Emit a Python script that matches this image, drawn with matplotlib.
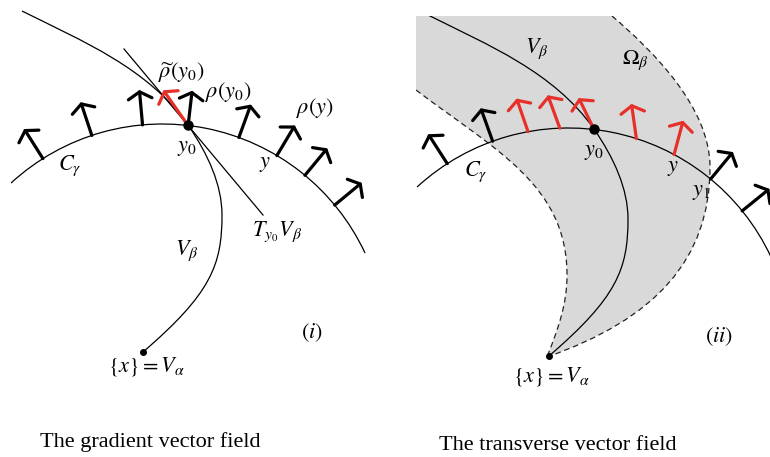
import numpy as np
import matplotlib
matplotlib.use("Agg")
import matplotlib.pyplot as plt
from matplotlib.path import Path
from matplotlib.patches import PathPatch, Arc, FancyArrowPatch, Rectangle, ArrowStyle

plt.rcParams['mathtext.fontset'] = 'stix'
plt.rcParams['font.family'] = ['Liberation Serif', 'DejaVu Serif']

# circle C_gamma (pixel space, y downward), same circle in both panels, shifted
circle_R = 223.6
circle_centers = [(162.4, 347.6), (568.4, 351.6)]
arc_span = (25.0, 132.6)          # degrees, measured counter-clockwise, y up

# left panel: gradient field arrows (angle of base on C_gamma, all radial)
left_black_angles = [122.3, 108.4, 95.1, 83.4, 70.0, 59.2, 50.4, 39.6]
left_red_angle = 83.4
left_red_dir = 125.1
# right panel: black radial arrows outside Omega, red transverse arrows inside
right_black_angles = [122.8, 109.8, 50.5, 39.0]
right_red_angles = [100.4, 92.2, 83.4, 72.3, 61.8]
right_red_dirs = [109.0, 110.0, 116.0, 98.0, 75.0]
y0_angle = 83.4

# V_beta curve (cubic bezier control points), left panel
vbeta_pts = [(22, 11), (82, 41), (148, 68), (188, 125),
             (208, 154), (222, 185), (222, 215),
             (222, 265), (211, 293.5), (143, 352)]
vbeta_shift = (406, 4)
tangent_line = [(124, 49), (263, 215)]

# boundary of Omega_beta (right panel)
omega_right = [(612, 16), (652, 50), (710, 107), (710, 167),
               (710, 260), (655, 319), (547, 357)]
omega_left = [(416, 90), (495, 150), (567, 185), (567, 275),
              (567, 305), (558, 329), (547, 357)]
clip_box = (416, 16)

left_labels = [(r'$\widetilde{\rho}(y_0)$', 181, 73), (r'$\rho(y_0)$', 228, 92),
               (r'$\rho(y)$', 315, 108), (r'$y_0$', 187, 148), (r'$C_\gamma$', 70, 166),
               (r'$y$', 265, 164), (r'$T_{y_0}V_\beta$', 277, 232), (r'$V_\beta$', 187, 251),
               (r'$(i)$', 312, 333), (r'$\{x\} = V_\alpha$', 147, 367)]
right_labels = [(r'$V_\beta$', 537, 49), (r'$\Omega_\beta$', 635, 60), (r'$y_0$', 594, 152),
                (r'$C_\gamma$', 476, 172), (r'$y$', 673, 169), (r'$y_1$', 701, 192),
                (r'$(ii)$', 719, 337), (r'$\{x\} = V_\alpha$', 552, 377)]
titles = [("The gradient vector field", 150, 442), ("The transverse vector field", 558, 446)]

RED = '#e8302a'
GRAY = '#d9d9d9'

fig = plt.figure(figsize=(7.7, 4.57), dpi=100)
ax = fig.add_axes([0, 0, 1, 1])
ax.set_xlim(0, 770)
ax.set_ylim(457, 0)
ax.axis('off')

clip = Rectangle(clip_box, 770 - clip_box[0], 457 - clip_box[1], transform=ax.transData)


def on_circle(c, ang):
    t = np.radians(ang)
    return c[0] + circle_R * np.cos(t), c[1] - circle_R * np.sin(t)


def arrow(c, base_ang, dir_ang, length, color):
    x0, y0 = on_circle(c, base_ang)
    t = np.radians(dir_ang)
    x1, y1 = x0 + length * np.cos(t), y0 - length * np.sin(t)
    a = FancyArrowPatch((x0, y0), (x1, y1),
                        arrowstyle=ArrowStyle('->', head_length=0.5, head_width=0.85),
                        mutation_scale=10, lw=2.3, color=color,
                        shrinkA=0, shrinkB=0, zorder=5)
    a.set_capstyle('round')
    a.set_joinstyle('round')
    ax.add_patch(a)


def bez_path(pts, dx=0, dy=0):
    verts = [(x + dx, y + dy) for x, y in pts]
    codes = [Path.MOVETO] + [Path.CURVE4] * (len(verts) - 1)
    return Path(verts, codes)


# shaded region Omega_beta
reg = [clip_box, omega_right[0]] + omega_right[1:] + omega_left[::-1][1:] + [clip_box, clip_box]
codes = ([Path.MOVETO, Path.LINETO] + [Path.CURVE4] * (len(omega_right) - 1)
         + [Path.CURVE4] * (len(omega_left) - 1) + [Path.LINETO, Path.CLOSEPOLY])
ax.add_patch(PathPatch(Path(reg, codes), facecolor=GRAY, edgecolor='none', zorder=1))
for b in (omega_right, omega_left):
    pp = PathPatch(bez_path(b), facecolor='none', edgecolor='#222222', lw=0.9,
                   linestyle=(0, (4.5, 3)), zorder=2)
    ax.add_patch(pp)
    pp.set_clip_path(clip)

# circles
for c in circle_centers:
    ax.add_patch(Arc(c, 2 * circle_R, 2 * circle_R, theta1=-arc_span[1], theta2=-arc_span[0],
                     color='black', lw=0.9, zorder=3))

# V_beta curves
ax.add_patch(PathPatch(bez_path(vbeta_pts), facecolor='none', edgecolor='black', lw=0.9, zorder=3))
vb = PathPatch(bez_path(vbeta_pts, *vbeta_shift), facecolor='none', edgecolor='black', lw=0.9, zorder=3)
ax.add_patch(vb)
vb.set_clip_path(clip)
ax.plot([p[0] for p in tangent_line], [p[1] for p in tangent_line], color='black', lw=0.9, zorder=3)

# arrows
cl, cr = circle_centers
for a in left_black_angles:
    arrow(cl, a, a, 35, 'black')
arrow(cl, left_red_angle, left_red_dir, 43, RED)
for a in right_black_angles:
    arrow(cr, a, a, 35, 'black')
for a, d in zip(right_red_angles, right_red_dirs):
    arrow(cr, a, d, 35, RED)

# points y0 and x
for c in circle_centers:
    px, py = on_circle(c, y0_angle)
    ax.plot(px, py, 'o', color='black', ms=6.5, zorder=6)
for dx, dy in [(0, 0), vbeta_shift]:
    ax.plot(vbeta_pts[-1][0] + dx, vbeta_pts[-1][1] + dy, 'o', color='black', ms=4, zorder=6)

for s, x, y in left_labels + right_labels:
    ax.text(x, y, s, fontsize=16, ha='center', va='center', zorder=7)
for s, x, y in titles:
    ax.text(x, y, s, fontsize=16, ha='center', va='center', family='Liberation Serif')

fig.savefig('out.png', dpi=100)
